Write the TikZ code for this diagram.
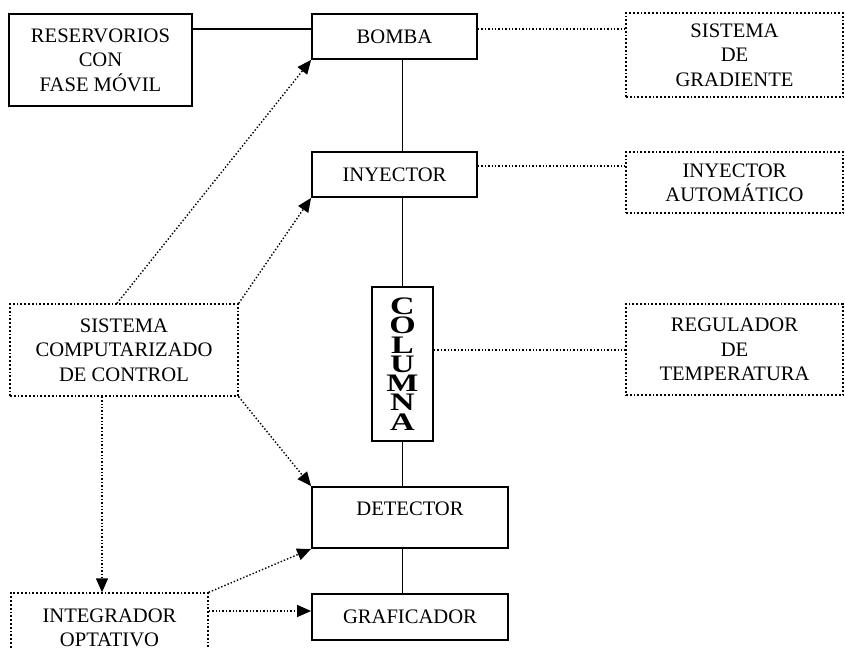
\documentclass[tikz,border=0pt]{standalone}
\usepackage{fontspec}
\setmainfont{Liberation Serif}
\usepackage{tikz}
\usetikzlibrary{arrows.meta}

\begin{document}
\begin{tikzpicture}[x=0.5pt,y=-0.5pt,
    caja/.style={draw,line width=0.9pt,align=center,inner sep=0pt,
      font=\fontsize{10.3}{12.2}\selectfont},
    punteada/.style={caja,densely dotted,line width=0.7pt},
    linea/.style={line width=0.9pt},
    puntos/.style={densely dotted,line width=0.7pt},
    flecha/.style={puntos,-{Triangle[length=7pt,width=6pt]}}]
        % page frame (the bottom box runs off the page)
        \clip (0,0) rectangle (845,648);
        % main line
        \node[caja,minimum width=91.5pt,minimum height=46pt] (res) at (100.5,60)
              {RESERVORIOS\\CON\\FASE MÓVIL};
        \node[caja,minimum width=82.5pt,minimum height=22.5pt] (bomba) at (394.5,36.5) {BOMBA};
        \node[caja,minimum width=82.5pt,minimum height=22.5pt] (iny) at (394.5,174.5) {INYECTOR};
        \node[caja,minimum width=30.5pt,minimum height=77pt] (col) at (402.5,364)
              {\scalebox{1}[0.74]{\parbox{2em}{\centering
                \fontsize{17}{13}\selectfont\bfseries C\\O\\L\\U\\M\\N\\A}}};
        \node[caja,minimum width=98pt,minimum height=30.5pt,text depth=9pt] (det) at (410,517.5) {DETECTOR};
        \node[caja,minimum width=98pt,minimum height=23pt] (graf) at (410,617) {GRAFICADOR};
        % optional parts
        \node[punteada,minimum width=108.5pt,minimum height=42pt] (grad) at (734.5,55)
              {SISTEMA\\DE\\GRADIENTE};
        \node[punteada,minimum width=108.5pt,minimum height=30.5pt] (auto) at (734.5,182.5)
              {INYECTOR\\AUTOMÁTICO};
        \node[punteada,minimum width=108.5pt,minimum height=45.5pt] (reg) at (734.5,349.5)
              {REGULADOR\\DE\\TEMPERATURA};
        \node[punteada,minimum width=114pt,minimum height=46pt] (comp) at (124,350)
              {SISTEMA\\COMPUTARIZADO\\DE CONTROL};
        \node[punteada,minimum width=98.5pt,minimum height=35pt] (integ) at (109.5,628)
              {INTEGRADOR\\OPTATIVO};
        % solid connections
        \draw[linea] ([yshift=3.75pt]bomba.west) -- ([yshift=3.75pt]bomba.west -| res.east);
        \draw[linea] (bomba.south -| col.north) -- (iny.north -| col.north);
        \draw[linea] (iny.south -| col.north) -- (col.north);
        \draw[linea] (col.south) -- (det.north -| col.south);
        \draw[linea] (det.south -| col.south) -- (graf.north -| col.south);
        % dotted connections
        \draw[puntos] ([yshift=3.75pt]bomba.east) -- ([yshift=3.75pt]bomba.east -| grad.west);
        \draw[puntos] ([yshift=4.25pt]iny.east) -- ([yshift=4.25pt]iny.east -| auto.west);
        \draw[puntos] ([yshift=7pt]col.east) -- ([yshift=7pt]col.east -| reg.west);
        % control arrows
        \draw[flecha] ([xshift=-3.5pt]comp.north) -- (bomba.south west);
        \draw[flecha] (comp.north east) -- (iny.south west);
        \draw[flecha] (comp.south east) -- (det.north west);
        \draw[flecha] ([xshift=-11pt]comp.south) -- ([xshift=-11pt]comp.south |- integ.north);
        \draw[flecha] (integ.north east) -- (det.south west);
        \draw[flecha] ([yshift=3pt]graf.west -| integ.east) -- ([yshift=3pt]graf.west);
\end{tikzpicture}
\end{document}
